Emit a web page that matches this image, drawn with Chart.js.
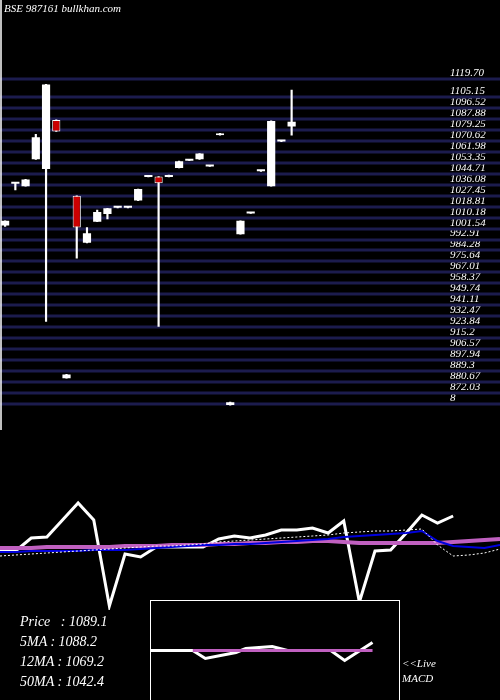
<!DOCTYPE html>
<html>
<head>
<meta charset="utf-8">
<script src="https://cdn.jsdelivr.net/npm/chart.js@4"></script>
<style>
  body { margin: 0; background: #000; width: 500px; height: 700px; overflow: hidden; position: relative; font-family: "Liberation Serif", serif; font-style: italic; color: #fff; }
  .box { position: absolute; }
  #title { left: 4px; top: 2px; font-size: 11px; }
  #stats { left: 20px; top: 612px; font-size: 14px; line-height: 20px; white-space: pre; }
  #live { left: 402px; top: 656px; font-size: 11px; line-height: 15px; }
  #macdWrap { left: 150px; top: 600px; width: 250px; height: 100px; border: 1px solid #fff; border-bottom: none; background: #000; box-sizing: border-box; }
</style>
</head>
<body>
<div class="box" style="left:0;top:0;width:500px;height:430px"><canvas id="priceChart"></canvas></div>
<div class="box" style="left:0;top:480px;width:500px;height:130px"><canvas id="oscChart"></canvas></div>
<div class="box" id="macdWrap"><canvas id="macdChart"></canvas></div>
<div class="box" id="title">BSE 987161 bullkhan.com</div>
<div class="box" id="stats">Price   : 1089.1
5MA : 1088.2
12MA : 1069.2
50MA : 1042.4</div>
<div class="box" id="live">&lt;&lt;Live<br>MACD</div>
<script>
// candles
const opens  = [999.2, 1032.2, 1030.3, 1051.5, 1043.9, 1082.6, 878.8, 1022.7, 985.6, 1002.3, 1008.3, 1013.2, 1013.2, 1018.9, 1037.5, 1037.9, 1037.5, 1044.7, 1050.4, 1051.5, 1045.8, 1072.0, 857.6, 992.4, 1008.7, 1042.0, 1030.3, 1065.5, 1077.3];
const closes = [1003.0, 1033.0, 1035.6, 1068.9, 1110.6, 1073.5, 881.8, 997.7, 993.2, 1009.9, 1012.9, 1014.0, 1014.0, 1028.0, 1038.3, 1032.6, 1038.3, 1050.0, 1051.2, 1056.1, 1046.6, 1070.5, 859.9, 1003.0, 1009.5, 1042.8, 1081.8, 1066.3, 1081.1];
const highs  = [1003.0, 1033.0, 1035.6, 1071.2, 1110.6, 1082.6, 881.8, 1022.7, 997.7, 1011.4, 1012.9, 1014.0, 1014.0, 1028.0, 1038.3, 1037.9, 1039.0, 1050.0, 1051.2, 1056.1, 1046.6, 1072.0, 859.9, 1003.0, 1009.5, 1042.8, 1081.8, 1066.3, 1106.1];
const lows   = [998.5, 1027.3, 1030.3, 1051.5, 923.5, 1073.5, 878.8, 973.5, 985.6, 1002.3, 1004.5, 1013.2, 1013.2, 1018.9, 1037.5, 919.7, 1037.5, 1044.7, 1050.4, 1051.5, 1045.8, 1070.5, 857.6, 992.4, 1008.7, 1042.0, 1030.3, 1065.5, 1070.5];
const slots = 43;

// price axis labels
const tickValues = [1119.70, 1105.15, 1096.52, 1087.88, 1079.25, 1070.62, 1061.98, 1053.35, 1044.71, 1036.08, 1027.45, 1018.81, 1010.18, 1001.54, 992.91, 984.28, 975.64, 967.01, 958.37, 949.74, 941.11, 932.47, 923.84, 915.2, 906.57, 897.94, 889.3, 880.67, 872.03, 863.4];
const tickText = ["1119.70", "1105.15", "1096.52", "1087.88", "1079.25", "1070.62", "1061.98", "1053.35", "1044.71", "1036.08", "1027.45", "1018.81", "1010.18", "1001.54", "992.91", "984.28", "975.64", "967.01", "958.37", "949.74", "941.11", "932.47", "923.84", "915.2", "906.57", "897.94", "889.3", "880.67", "872.03", "8"];

// oscillator panel
const oscPrice  = [49, 49, 62, 63, 80, 97, 80, -6, 46, 43, 53, 53, 53, 53, 61, 64, 62, 65, 70, 70, 72, 67, 79, -2, 49, 50, 67, 85, 77, 84];
const oscBlue   = [48, 48, 49, 49, 49, 49, 50, 50, 50, 51, 52, 53, 54, 55, 55, 56, 56, 57, 58, 59, 60, 61, 63, 64, 65, 66, 67, 69, 59, 54, 53, 52, 55];
const oscPurple = [52, 52, 52, 53, 53, 53, 53, 53, 54, 54, 54, 55, 55, 55, 56, 56, 57, 57, 58, 58, 59, 59, 58, 57, 57, 57, 57, 57, 57, 58, 59, 60, 61];
const oscDotted = [44, 45, 46, 47, 48, 49, 50, 51, 52, 53, 54, 54, 55, 56, 58, 59, 60, 61, 62, 63, 64, 65, 67, 68, 69, 69, 70, 71, 55, 44, 45, 47, 51];

// macd
const macdX = [0, 3, 3.9, 6.1, 6.8, 8.7, 9.8, 12.9, 13.9, 15.9];
const macdLine = [0, 0, -8, -2, 2, 4, 0, 0, -10, 8];
const macdSignal = [0, 0];

const fullGrid = {
  id: 'fullGrid',
  beforeDatasetsDraw(chart) {
    const y = chart.scales.y, ctx = chart.ctx;
    ctx.save();
    ctx.strokeStyle = '#1c1c4e';
    ctx.lineWidth = 3;
    tickValues.forEach(v => {
      const py = Math.round(y.getPixelForValue(v)) + 6;
      ctx.beginPath(); ctx.moveTo(0, py); ctx.lineTo(chart.width, py); ctx.stroke();
    });
    ctx.strokeStyle = '#fff'; ctx.lineWidth = 1.5;
    ctx.beginPath(); ctx.moveTo(1, 0); ctx.lineTo(1, chart.height); ctx.stroke();
    ctx.restore();
  }
};

const labels = Array.from({ length: slots }, (_, i) => i);
const up = opens.map((o, i) => closes[i] >= o);

new Chart(document.getElementById('priceChart'), {
  type: 'bar',
  data: {
    labels: labels,
    datasets: [
      {
        data: opens.map((o, i) => [Math.min(o, closes[i]), Math.max(o, closes[i])]),
        backgroundColor: up.map(u => u ? '#ffffff' : '#cc0000'),
        borderColor: '#ffffff',
        borderWidth: up.map(u => u ? 0 : 1),
        borderSkipped: false,
        minBarLength: 2,
        barPercentage: 0.8,
        categoryPercentage: 1,
        grouped: false,
        order: 1
      },
      {
        data: highs.map((h, i) => [lows[i], h]),
        backgroundColor: '#ffffff',
        barThickness: 1.5,
        grouped: false,
        order: 2
      }
    ]
  },
  options: {
    responsive: true, maintainAspectRatio: false, animation: false,
    layout: { padding: 0 },
    plugins: { legend: { display: false }, tooltip: { enabled: false } },
    scales: {
      x: { display: false, offset: true },
      y: {
        position: 'right', min: 844.7, max: 1170.4,
        afterBuildTicks: s => { s.ticks = tickValues.map(v => ({ value: v })); },
        afterFit: s => { s.width = 60; },
        grid: { display: false },
        border: { display: false },
        ticks: {
          color: '#ffffff', padding: 2, autoSkip: false,
          font: { family: 'Liberation Serif', style: 'italic', size: 11 },
          callback: (v, i) => tickText[i]
        }
      }
    }
  },
  plugins: [fullGrid]
});

const oscX = arr => arr.map((v, i) => ({ x: i, y: v }));
new Chart(document.getElementById('oscChart'), {
  type: 'line',
  data: {
    datasets: [
      { data: oscX(oscDotted), borderColor: '#ffffff', borderWidth: 1, borderDash: [2, 2], pointRadius: 0 },
      { data: oscX(oscBlue), borderColor: '#0000dd', borderWidth: 2, pointRadius: 0 },
      { data: oscX(oscPurple), borderColor: '#c060c0', borderWidth: 4, pointRadius: 0 },
      { data: oscX(oscPrice), borderColor: '#ffffff', borderWidth: 3, pointRadius: 0 }
    ]
  },
  options: {
    responsive: true, maintainAspectRatio: false, animation: false,
    layout: { padding: 0 },
    plugins: { legend: { display: false }, tooltip: { enabled: false } },
    scales: {
      x: { type: 'linear', display: false, min: 0, max: 32 },
      y: { display: false, min: -10, max: 120 }
    }
  }
});

new Chart(document.getElementById('macdChart'), {
  type: 'line',
  data: {
    datasets: [
      { data: [{ x: 3, y: macdSignal[0] }, { x: 15.9, y: macdSignal[1] }], borderColor: '#c060c0', borderWidth: 3, pointRadius: 0 },
      { data: macdX.map((x, i) => ({ x: x, y: macdLine[i] })), borderColor: '#ffffff', borderWidth: 3, pointRadius: 0 }
    ]
  },
  options: {
    responsive: true, maintainAspectRatio: false, animation: false,
    layout: { padding: 0 },
    plugins: { legend: { display: false }, tooltip: { enabled: false } },
    scales: {
      x: { type: 'linear', display: false, min: 0, max: 17.8 },
      y: { display: false, min: -50, max: 50 }
    }
  }
});
</script>
</body>
</html>
